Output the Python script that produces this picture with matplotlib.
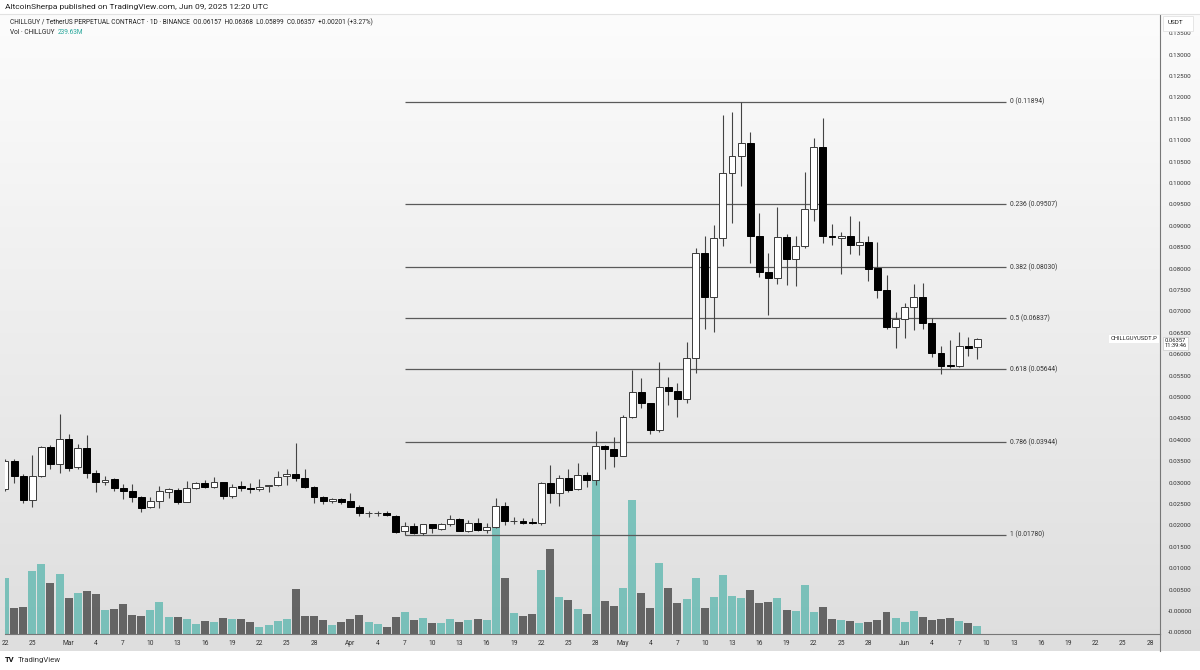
import numpy as np
import pandas as pd
import matplotlib
matplotlib.use("Agg")
import matplotlib.pyplot as plt
from matplotlib.colors import LinearSegmentedColormap
from matplotlib.transforms import Bbox, TransformedBbox

plt.rcParams['font.family'] = ['Roboto', 'DejaVu Sans']

# daily candles, Feb 22 .. Jun 9 2025
dates = pd.date_range("2025-02-22", "2025-06-09", freq="D")

opens = [0.0284, 0.0351, 0.0315, 0.0259, 0.0315, 0.0384, 0.0343, 0.0403, 0.0337, 0.0380,
         0.0322, 0.0301, 0.0308, 0.0287, 0.0281, 0.0266, 0.0242, 0.0258, 0.0278, 0.0283,
         0.0255, 0.0287, 0.0298, 0.0289, 0.0301, 0.0269, 0.0292, 0.0287, 0.0284, 0.0291,
         0.0294, 0.0315, 0.0319, 0.0310, 0.0289, 0.0266, 0.0257, 0.0261, 0.0257, 0.0244,
         0.0228, 0.0228, 0.0230, 0.0223, 0.0188, 0.0199, 0.0182, 0.0203, 0.0192, 0.0203,
         0.0215, 0.0187, 0.0206, 0.0189, 0.0197, 0.0246, 0.0210, 0.0211, 0.0207, 0.0205,
         0.0298, 0.0275, 0.0311, 0.0285, 0.0318, 0.0306, 0.0386, 0.0379, 0.0363, 0.0454,
         0.0512, 0.0485, 0.0423, 0.0524, 0.0514, 0.0495, 0.0590, 0.0836, 0.0733, 0.0871,
         0.1024, 0.1063, 0.1094, 0.0877, 0.0793, 0.0779, 0.0875, 0.0822, 0.0853, 0.0939,
         0.1085, 0.0877, 0.0872, 0.0877, 0.0854, 0.0863, 0.0801, 0.0750, 0.0664, 0.0682,
         0.0711, 0.0734, 0.0672, 0.0602, 0.0575, 0.0573, 0.0619, 0.06157]
highs = [0.0356, 0.0355, 0.0320, 0.0364, 0.0386, 0.0388, 0.0460, 0.0413, 0.0390, 0.0411,
         0.0329, 0.0315, 0.0310, 0.0297, 0.0297, 0.0269, 0.0266, 0.0292, 0.0287, 0.0287,
         0.0304, 0.0301, 0.0306, 0.0314, 0.0302, 0.0296, 0.0304, 0.0298, 0.0308, 0.0295,
         0.0327, 0.0331, 0.0392, 0.0331, 0.0292, 0.0269, 0.0263, 0.0265, 0.0275, 0.0248,
         0.0233, 0.0233, 0.0234, 0.0225, 0.0209, 0.0206, 0.0204, 0.0204, 0.0206, 0.0224,
         0.0217, 0.0213, 0.0217, 0.0206, 0.0263, 0.0254, 0.0220, 0.0217, 0.0217, 0.0302,
         0.0340, 0.0318, 0.0332, 0.0345, 0.0325, 0.0421, 0.0387, 0.0407, 0.0458, 0.0563,
         0.0544, 0.0486, 0.0582, 0.0546, 0.0533, 0.0629, 0.0847, 0.0877, 0.0902, 0.1159,
         0.1167, 0.11894, 0.1120, 0.0929, 0.0836, 0.0945, 0.0881, 0.0876, 0.1026, 0.1104,
         0.1151, 0.0904, 0.0885, 0.0924, 0.0912, 0.0876, 0.0861, 0.0785, 0.0699, 0.0719,
         0.0764, 0.0767, 0.0684, 0.0619, 0.0633, 0.0653, 0.0641, 0.06368]
lows = [0.0280, 0.0299, 0.0252, 0.0244, 0.0313, 0.0332, 0.0322, 0.0328, 0.0332, 0.0311,
        0.0279, 0.0294, 0.0281, 0.0262, 0.0255, 0.0231, 0.0240, 0.0240, 0.0263, 0.0250,
        0.0254, 0.0286, 0.0287, 0.0287, 0.0261, 0.0263, 0.0281, 0.0275, 0.0281, 0.0279,
        0.0293, 0.0294, 0.0304, 0.0287, 0.0253, 0.0250, 0.0253, 0.0250, 0.0242, 0.0222,
        0.0219, 0.0222, 0.0222, 0.0182, 0.0178, 0.0181, 0.0178, 0.0182, 0.0190, 0.0199,
        0.0186, 0.0185, 0.0187, 0.0182, 0.0195, 0.0201, 0.0203, 0.0203, 0.0204, 0.0201,
        0.0252, 0.0246, 0.0279, 0.0283, 0.0290, 0.0294, 0.0331, 0.0337, 0.0361, 0.0452,
        0.0474, 0.0414, 0.0419, 0.0481, 0.0454, 0.0485, 0.0557, 0.0658, 0.0653, 0.0853,
        0.0907, 0.0993, 0.0814, 0.0780, 0.0692, 0.0764, 0.0762, 0.0760, 0.0847, 0.0912,
        0.0859, 0.0854, 0.0787, 0.0834, 0.0832, 0.0772, 0.0731, 0.0660, 0.0614, 0.0637,
        0.0657, 0.0660, 0.0594, 0.0554, 0.0567, 0.0571, 0.0596, 0.05899]
closes = [0.0351, 0.0315, 0.0259, 0.0315, 0.0383, 0.0343, 0.0403, 0.0335, 0.0380, 0.0323,
          0.0301, 0.0306, 0.0287, 0.0281, 0.0266, 0.0241, 0.0258, 0.0280, 0.0284, 0.0255,
          0.0287, 0.0300, 0.0289, 0.0301, 0.0269, 0.0290, 0.0287, 0.0284, 0.0289, 0.0294,
          0.0314, 0.0319, 0.0310, 0.0289, 0.0266, 0.0257, 0.0261, 0.0255, 0.0244, 0.0228,
          0.0229, 0.0229, 0.0224, 0.0185, 0.0199, 0.0182, 0.0203, 0.0193, 0.0203, 0.0215,
          0.0187, 0.0206, 0.0189, 0.0197, 0.0246, 0.0210, 0.0211, 0.0206, 0.0205, 0.0298,
          0.0275, 0.0311, 0.0283, 0.0318, 0.0306, 0.0386, 0.0378, 0.0363, 0.0454, 0.0512,
          0.0485, 0.0423, 0.0524, 0.0514, 0.0495, 0.0590, 0.0836, 0.0733, 0.0871, 0.1024,
          0.1063, 0.1094, 0.0877, 0.0793, 0.0779, 0.0875, 0.0822, 0.0853, 0.0939, 0.1085,
          0.0877, 0.0875, 0.0877, 0.0854, 0.0863, 0.0799, 0.0750, 0.0663, 0.0682, 0.0711,
          0.0734, 0.0672, 0.0602, 0.0573, 0.0573, 0.0619, 0.0614, 0.06357]
# volume in millions
volumes = [1742, 809, 829, 1949, 2187, 1576, 1866, 1109, 1285, 1347,
           1244, 746, 777, 933, 591, 570, 746, 1006, 518, 518,
           467, 311, 415, 363, 498, 456, 456, 384, 218, 290,
           415, 456, 1400, 570, 570, 435, 280, 384, 456, 591,
           384, 311, 218, 518, 694, 435, 487, 332, 352, 467,
           384, 446, 456, 435, 3297, 1742, 643, 549, 622, 1980,
           2644, 1161, 1057, 778, 612, 4821, 1016, 881, 1441, 4167,
           1265, 798, 2219, 1420, 954, 1089, 1731, 809, 1140, 1845,
           1171, 1120, 1368, 964, 995, 1109, 736, 726, 1524, 695,
           829, 467, 435, 404, 352, 373, 425, 695, 498, 363,
           715, 518, 425, 467, 498, 404, 342, 239.63]

fib_ratios = ["0", "0.236", "0.382", "0.5", "0.618", "0.786", "1"]
fib_prices = [0.11894, 0.09507, 0.08030, 0.06837, 0.05644, 0.03944, 0.01780]
fib_start, fib_end = "2025-04-07", "2025-06-12"

price_ticks = [round(-0.005 + 0.005 * i, 3) for i in range(29)]
last_price = 0.06357

# x tick dates: every 3 days, month name on the 1st
tick_dates = [pd.Timestamp("2025-02-22"), pd.Timestamp("2025-02-25")]
for m in [3, 4, 5, 6]:
    tick_dates += [pd.Timestamp(2025, m, d) for d in range(1, 29, 3)]
tick_labels = [t.strftime("%b") if t.day == 1 else str(t.day) for t in tick_dates]

x = np.arange(len(dates))
o = np.array(opens); h = np.array(highs); l = np.array(lows); c = np.array(closes)
up = c >= o

W, H = 1200, 670
fig = plt.figure(figsize=(W / 100, H / 100), dpi=100, facecolor='white')
left_px, right_px, top_px, bot_px = 5, 1160, 15, 634
panel_top, panel_bot = 14, 651

# background gradient over the whole chart panel (incl. axis strips)
bgax = fig.add_axes([0, 1 - panel_bot / H, 1, (panel_bot - panel_top) / H], zorder=-1)
bg = LinearSegmentedColormap.from_list('bg', ['#dedede', '#fcfcfc'])
bgax.imshow(np.linspace(0, 1, 256).reshape(-1, 1), extent=[0, 1, 0, 1],
            aspect='auto', cmap=bg, origin='lower')
bgax.axis('off')

vax = fig.add_axes([left_px / W, 1 - bot_px / H, (right_px - left_px) / W, (bot_px - top_px) / H])
vax.patch.set_visible(False)
ax = vax.twinx()

px_day = 9.09
x0_px = 4.7
xlim = ((left_px - x0_px) / px_day, (right_px - x0_px) / px_day)

# volume
vcol = [(0.149, 0.651, 0.604, 0.55) if u else (0, 0, 0, 0.55) for u in up]
vax.bar(x, volumes, width=0.88, color=vcol, zorder=2)
vax.set_xlim(*xlim)
vax.set_ylim(0, 31.1 * (bot_px - top_px))
vax.set_yticks([])
for s in vax.spines.values():
    s.set_visible(False)

# fib levels
fs = (pd.Timestamp(fib_start) - dates[0]).days
fe = (pd.Timestamp(fib_end) - dates[0]).days
ax.hlines(fib_prices, fs, fe + 0.1, color='#5a5a5a', lw=0.9, zorder=2)
for r, p in zip(fib_ratios, fib_prices):
    ax.text(fe + 0.6, p, f"{r} ({p:.5f})", ha='left', va='center', fontsize=4.9, color='#333333')

# candles
ax.vlines(x, l, h, color='#444444', lw=0.8, zorder=3)
body = np.maximum(np.abs(c - o), 0.00012)
ax.bar(x, body, bottom=np.minimum(o, c), width=0.76,
       color=['white' if u else 'black' for u in up],
       edgecolor=['#3a3a3a' if u else 'black' for u in up], linewidth=0.7, zorder=4)

ax.set_xlim(*xlim)
ax.set_ylim((611 - bot_px) / 4280, (611 - top_px) / 4280)
ax.set_yticks(price_ticks)
ax.set_yticklabels(["-0.00000" if v == 0 else f"{v:.5f}" for v in price_ticks])
ax.tick_params(axis='y', length=0, pad=6, labelsize=4.5, labelcolor='#333333')
clip = TransformedBbox(Bbox([[right_px / W, 1 - bot_px / H], [1, 1 - top_px / H]]), fig.transFigure)
for lab in ax.get_yticklabels():
    lab.set_clip_box(clip)
    lab.set_clip_on(True)
for s in ['top', 'left']:
    ax.spines[s].set_visible(False)
ax.spines['bottom'].set_color('#777777')
ax.spines['right'].set_color('#777777')

vax.set_xticks([(t - dates[0]).days for t in tick_dates])
vax.set_xticklabels(tick_labels)
vax.tick_params(axis='x', length=0, pad=4, labelsize=4.8, labelcolor='#333333')

# last price labels
ax.text(1.004, last_price + 0.0002, "0.06357\n11:39:46", transform=ax.get_yaxis_transform(),
        ha='left', va='top', fontsize=4.2, color='#222222', linespacing=1.1,
        bbox=dict(boxstyle='square,pad=0.25', fc='white', ec='#cccccc', lw=0.5))
ax.text(0.998, last_price, "CHILLGUYUSDT.P", transform=ax.get_yaxis_transform(),
        ha='right', va='center', fontsize=4.2, color='#222222',
        bbox=dict(boxstyle='square,pad=0.25', fc='white', ec='none'))

# header and frame texts
fig.text(5 / W, 1 - 7 / H, "AltcoinSherpa published on TradingView.com, Jun 09, 2025 12:20 UTC",
         ha='left', va='center', fontsize=6.0, color='#222222')
fig.text(10 / W, 1 - 22 / H,
         "CHILLGUY / TetherUS PERPETUAL CONTRACT · 1D · BINANCE  O0.06157  H0.06368  L0.05899  C0.06357  +0.00201 (+3.27%)",
         ha='left', va='center', fontsize=4.7, color='#222222')
fig.text(10 / W, 1 - 33 / H, "Vol · CHILLGUY", ha='left', va='center', fontsize=4.7, color='#222222')
fig.text(58 / W, 1 - 33 / H, "239.63M", ha='left', va='center', fontsize=4.7, color='#26a69a')
fig.add_artist(plt.Rectangle((1163 / W, 1 - 31 / H), 30 / W, 15 / H, transform=fig.transFigure,
                             fc='white', ec='#dddddd', lw=0.5, zorder=5))
fig.text(1168 / W, 1 - 23 / H, "USDT", ha='left', va='center', fontsize=4.6, color='#222222', zorder=6)
fig.text(5 / W, 1 - 660 / H, "TV", ha='left', va='center', fontsize=5.5, weight='bold', color='#111111')
fig.text(18 / W, 1 - 660 / H, "TradingView", ha='left', va='center', fontsize=5.6, color='#333333')

fig.add_artist(plt.Line2D([0, 1], [1 - panel_top / H, 1 - panel_top / H], color='#e2e2e2', lw=0.8))
fig.add_artist(plt.Line2D([right_px / W, right_px / W], [1 - panel_bot / H, 1 - bot_px / H],
                          color='#777777', lw=0.8))

fig.savefig("out.png", dpi=100, facecolor='white')
